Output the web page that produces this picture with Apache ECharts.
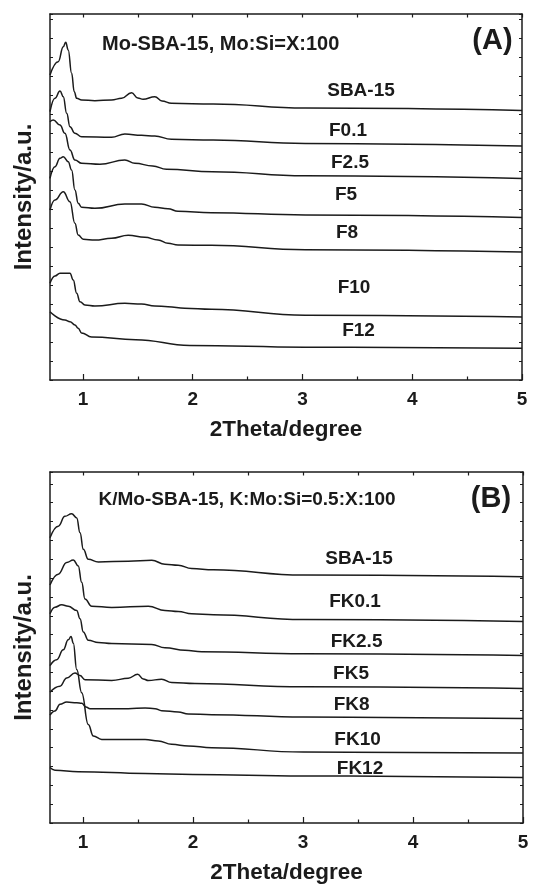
<!DOCTYPE html>
<html>
<head>
<meta charset="utf-8">
<script src="https://cdn.jsdelivr.net/npm/echarts@6/dist/echarts.min.js"></script>
<style>
html,body{margin:0;padding:0;background:#fff;}
#chart{width:533px;height:885px;}
</style>
</head>
<body>
<div id="chart"></div>
<script>
// ---------------- DATA ----------------
// x tick labels
const xTicks = [1, 2, 3, 4, 5];
const xMinorTicks = [1.5, 2.5, 3.5, 4.5];

// Panel A : Mo-SBA-15 (2theta, intensity a.u.)
const A_SBA15 = [[0.70,305],[0.775,318.3],[0.821,333.3],[0.843,337.7],[0.866,330],[0.897,306.7],[0.921,288.3],[0.943,281.7],[0.988,280],[1.109,279.3],[1.261,280],[1.352,281.7],[1.443,287.3],[1.500,282],[1.548,280.7],[1.655,283.3],[1.720,279],[1.806,276.7],[2.185,276],[3.025,272],[5.0,269.6]];
const A_F01 = [[0.70,268.3],[0.745,281.7],[0.791,289],[0.821,283.3],[0.852,266.7],[0.882,253.3],[0.927,246.7],[0.988,243.3],[1.261,242.7],[1.382,246],[1.534,244.7],[1.655,244],[1.806,240.7],[2.185,240],[3.025,236.6],[5.0,233.9]];
const A_F25 = [[0.70,258.3],[0.73,260],[0.791,255],[0.836,246.7],[0.882,230],[0.927,220],[0.988,216.7],[1.155,215.7],[1.382,220],[1.473,216.7],[1.636,214],[1.761,210.7],[2.18,208.3],[3.025,204.3],[5.0,201.6]];
const A_F5 = [[0.70,201.7],[0.745,213.3],[0.791,221.7],[0.821,223.3],[0.866,218.3],[0.897,210],[0.927,190],[0.957,176.7],[0.988,172.7],[1.109,171.7],[1.382,176],[1.534,176],[1.655,172.7],[1.775,171.3],[1.866,168.7],[2.17,167.3],[3.025,165],[5.0,162.6]];
const A_F8 = [[0.70,170],[0.745,180],[0.821,188.3],[0.882,178.3],[0.927,156.7],[0.957,145],[1.003,140.7],[1.109,140],[1.261,141.7],[1.412,144.7],[1.564,142.7],[1.685,140],[1.775,136.7],[1.866,135],[2.17,134.7],[3.025,130.3],[5.0,128]];
const A_F10 = [[0.70,96.7],[0.745,104],[0.791,106.7],[0.882,106.7],[0.912,100],[0.943,86.7],[0.973,78.3],[1.018,75],[1.109,74],[1.382,76.7],[1.534,76],[1.655,74],[1.775,73.3],[1.927,71.7],[2.17,70.7],[3.025,64.8],[5.0,63.1]];
const A_F12 = [[0.70,68.3],[0.836,60],[0.882,58.3],[0.927,55],[0.957,51.7],[0.987,47.1],[1.079,43],[1.481,40.3],[1.975,34.5],[3.025,32.8],[5.0,31.8]];
const A_names = ['SBA-15', 'F0.1', 'F2.5', 'F5', 'F8', 'F10', 'F12'];

// Panel B : K/Mo-SBA-15
const B_SBA15 = [[0.70,287.7],[0.775,299.3],[0.836,309.3],[0.897,312],[0.943,307.7],[0.973,292.7],[1.003,276],[1.048,266],[1.139,263.3],[1.412,264],[1.625,265],[1.745,261],[1.866,260],[1.988,256.7],[2.185,255.3],[3.0,250.1],[5.0,248.4]];
const B_FK01 = [[0.70,240],[0.775,251],[0.852,262.7],[0.912,265.3],[0.957,259.3],[0.988,242.7],[1.018,226],[1.079,218.7],[1.261,217.3],[1.594,218.7],[1.745,214.3],[1.866,213.3],[1.988,211],[2.185,210],[3.0,205.2],[5.0,203.2]];
const B_FK25 = [[0.70,211],[0.745,217.7],[0.806,220],[0.866,218.7],[0.943,214.3],[0.973,206],[1.003,192.7],[1.048,184.3],[1.139,182],[1.261,181],[1.625,180],[1.745,176.7],[1.927,174.3],[2.079,172.7],[3.0,170.7],[5.0,169]];
const B_FK5 = [[0.70,132],[0.791,138],[0.852,146.3],[0.927,151.3],[0.973,148.7],[1.018,144.5],[1.261,143.7],[1.412,146],[1.497,150],[1.548,145.3],[1.594,143.7],[1.715,145],[1.806,141.7],[2.018,140.7],[3.0,137.4],[5.0,135.7]];
const B_FK8 = [[0.70,108.7],[0.745,113],[0.791,119.7],[0.852,122],[0.943,121.3],[0.988,120.7],[1.027,117],[1.064,115.3],[1.412,115.3],[1.564,116],[1.655,115.3],[1.715,113.3],[1.866,112],[1.957,110],[2.17,109.3],[3.0,106.8],[5.0,105.5]];
const B_FK10 = [[0.70,158.7],[0.761,164.7],[0.821,174.7],[0.866,184.7],[0.891,188],[0.912,181.3],[0.943,154.7],[0.988,131.3],[1.048,99.3],[1.094,87.7],[1.17,84.3],[1.564,84.3],[1.685,82.7],[1.806,79.3],[1.957,77.7],[2.17,76],[3.0,71.5],[5.0,70.5]];
const B_FK12 = [[0.70,56],[0.745,53.3],[0.957,51.7],[1.564,50],[2.0,49],[3.0,47.5],[5.0,46]];
const B_names = ['SBA-15', 'FK0.1', 'FK2.5', 'FK5', 'FK8', 'FK10', 'FK12'];

const A_curves = [A_SBA15, A_F01, A_F25, A_F5, A_F8, A_F10, A_F12];
const B_curves = [B_SBA15, B_FK01, B_FK25, B_FK5, B_FK8, B_FK10, B_FK12];

const titleA = 'Mo-SBA-15, Mo:Si=X:100';
const titleB = 'K/Mo-SBA-15, K:Mo:Si=0.5:X:100';
const tagA = '(A)';
const tagB = '(B)';
const xName = '2Theta/degree';
const yName = 'Intensity/a.u.';

// ---------------- LAYOUT / STYLE ----------------
const FONT = '"Liberation Sans", Arial, sans-serif';
const INK = '#1b1b1b';
const grids = [
  {left: 50, right: 11, top: 14, height: 366},
  {left: 50, right: 10, top: 472, height: 354}
];
const yMax = [366, 354];
// label centers (pixels)
const A_labelPos = [[361,91],[348,131],[350,163],[346,195],[347,233],[354,288],[358.5,331]];
const B_labelPos = [[359,559],[355,601.5],[356.6,642],[351,674],[351.7,705],[357.6,739.7],[360,768.8]];

const xAxes = [], yAxes = [], series = [];
grids.forEach((g, gi) => {
  // main bottom x axis
  xAxes.push({
    type: 'value', gridIndex: gi, min: 0.7, max: 5, position: 'bottom',
    axisLine: {show: true, onZero: false, lineStyle: {color: INK, width: 1.5}},
    axisTick: {show: true, inside: true, length: 6, customValues: xTicks, lineStyle: {color: INK, width: 1.2}},
    axisLabel: {show: true, customValues: xTicks, margin: 10, color: INK, fontSize: 19, fontWeight: 'bold', fontFamily: FONT},
    splitLine: {show: false},
    name: xName, nameLocation: 'middle', nameGap: 38,
    nameTextStyle: {color: INK, fontSize: 22.5, fontWeight: 'bold', fontFamily: FONT}
  });
  // minor bottom ticks
  xAxes.push({
    type: 'value', gridIndex: gi, min: 0.7, max: 5, position: 'bottom',
    axisLine: {show: false, onZero: false},
    axisTick: {show: true, inside: true, length: 3.5, customValues: xMinorTicks, lineStyle: {color: INK, width: 1.2}},
    axisLabel: {show: false}, splitLine: {show: false}
  });
  // top mirror axis
  xAxes.push({
    type: 'value', gridIndex: gi, min: 0.7, max: 5, position: 'top',
    axisLine: {show: true, onZero: false, lineStyle: {color: INK, width: 1.5}},
    axisTick: {show: true, inside: true, length: 3.5, customValues: xTicks.concat(xMinorTicks), lineStyle: {color: INK, width: 1.2}},
    axisLabel: {show: false}, splitLine: {show: false}
  });
  yAxes.push({
    type: 'value', gridIndex: gi, min: 0, max: yMax[gi], interval: 19, position: 'left',
    axisLine: {show: true, onZero: false, lineStyle: {color: INK, width: 1.5}},
    axisTick: {show: true, inside: true, length: 3, lineStyle: {color: INK, width: 1}},
    axisLabel: {show: false}, splitLine: {show: false},
    name: yName, nameLocation: 'middle', nameGap: 14, nameRotate: 90,
    nameTextStyle: {color: INK, fontSize: 24, fontWeight: 'bold', fontFamily: FONT}
  });
  yAxes.push({
    type: 'value', gridIndex: gi, min: 0, max: yMax[gi], interval: 19, position: 'right',
    axisLine: {show: true, onZero: false, lineStyle: {color: INK, width: 1.5}},
    axisTick: {show: true, inside: true, length: 3, lineStyle: {color: INK, width: 1}},
    axisLabel: {show: false}, splitLine: {show: false}
  });
});

function addCurves(curves, names, gi) {
  curves.forEach((c, i) => {
    series.push({
      type: 'line', name: names[i], xAxisIndex: gi * 3, yAxisIndex: gi * 2,
      data: c, showSymbol: false, smooth: 0.45, smoothMonotone: 'x',
      lineStyle: {color: INK, width: 1.5}, silent: true, animation: false, clip: true
    });
  });
}
addCurves(A_curves, A_names, 0);
addCurves(B_curves, B_names, 1);

const graphics = [];
function txt(x, y, text, size, align) {
  graphics.push({
    type: 'text', x: x, y: y, silent: true,
    style: {text: text, fill: INK, font: 'bold ' + size + 'px ' + FONT, textAlign: align || 'center', textVerticalAlign: 'middle'}
  });
}
A_names.forEach((n, i) => txt(A_labelPos[i][0], A_labelPos[i][1], n, 19));
B_names.forEach((n, i) => txt(B_labelPos[i][0], B_labelPos[i][1], n, 19));
txt(102, 44, titleA, 20, 'left');
txt(98.5, 500, titleB, 19, 'left');
txt(492.5, 41, tagA, 29);
txt(491, 498.5, tagB, 29);

const chart = echarts.init(document.getElementById('chart'), null, {renderer: 'canvas'});
chart.setOption({
  animation: false,
  backgroundColor: '#fff',
  grid: grids,
  xAxis: xAxes,
  yAxis: yAxes,
  series: series,
  graphic: graphics
});
</script>
</body>
</html>
